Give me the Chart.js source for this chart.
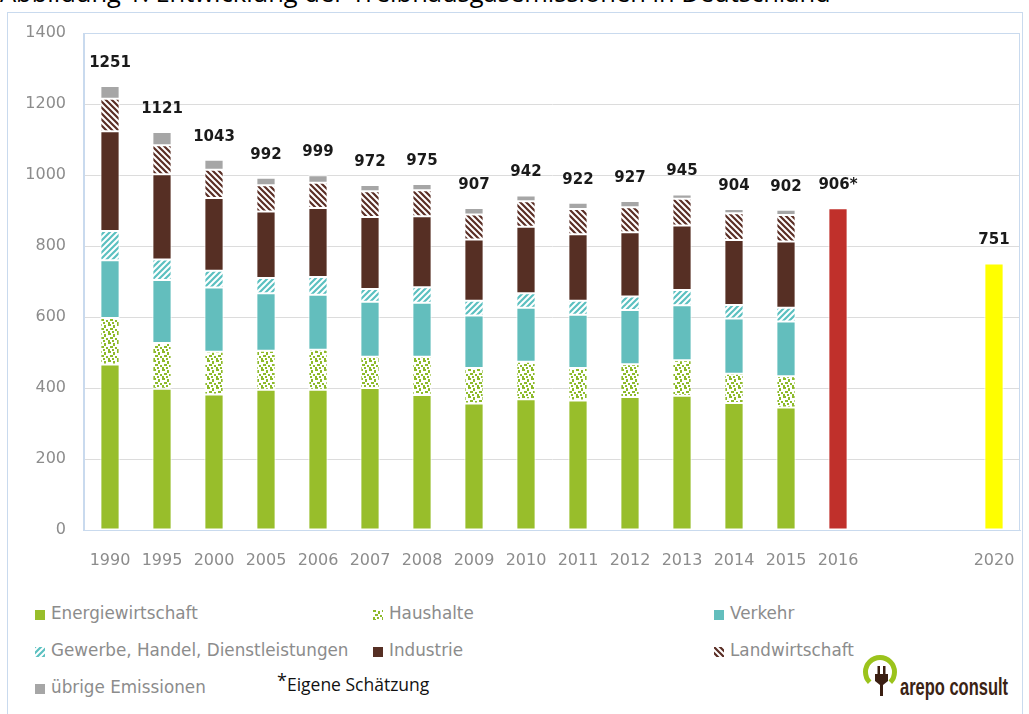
<!DOCTYPE html>
<html>
<head>
<meta charset="utf-8">
<script src="https://cdn.jsdelivr.net/npm/chart.js@4.4.1/dist/chart.umd.min.js"></script>
<style>
  body { margin: 0; background: #fff; width: 1029px; height: 714px; overflow: hidden; position: relative; font-family: "DejaVu Sans", sans-serif; }
  #title { position: absolute; left: 0; top: -25px; font-family: "Open Sans", sans-serif; font-size: 25.5px; color: #000; white-space: nowrap; }
  #frame { position: absolute; left: 7px; top: 12px; width: 1014px; height: 740px; border: 1px solid #C9DAEE; }
  #wrap { position: absolute; left: 0; top: 0; width: 1029px; height: 570px; }
  .item { position: absolute; font-size: 16.8px; color: #8C8C8C; line-height: 20px; white-space: nowrap; }
  .item canvas { vertical-align: -1px; margin-right: 6px; }
  #note { position: absolute; left: 277px; top: 672px; font-family: "Open Sans", sans-serif; font-size: 17.5px; color: #111; white-space: nowrap; }
  #note sup { font-size: 18px; vertical-align: 4px; line-height: 0; }
  #logo { position: absolute; left: 855px; top: 648px; }
</style>
</head>
<body>
<div id="title">Abbildung 1: Entwicklung der Treibhausgasemissionen in Deutschland</div>
<div id="frame"></div>
<div id="wrap"><canvas id="chart"></canvas></div>
<div id="legend"></div>
<div id="note"><sup>*</sup>Eigene Schätzung</div>
<svg id="logo" width="170" height="55">
  <path d="M 14.7 34.3 A 14.5 14.5 0 1 1 35.3 34.3" fill="none" stroke="#9BC31C" stroke-width="5"/>
  <rect x="22.5" y="18" width="2.5" height="8" fill="#3B1F12"/>
  <rect x="28" y="18" width="2.5" height="8" fill="#3B1F12"/>
  <path d="M 20 26 L 33 26 L 33 33 L 28 37 L 28 48 L 25 48 L 25 37 L 20 33 Z" fill="#3B1F12"/>
  <text x="45" y="47" font-family="Liberation Sans Narrow, Liberation Sans, sans-serif" font-weight="bold" font-size="24" fill="#3B2314" textLength="108" lengthAdjust="spacingAndGlyphs">arepo consult</text>
</svg>
<script>
// categories (two empty slots between 2016 and 2020)
var years = ['1990', '1995', '2000', '2005', '2006', '2007', '2008', '2009', '2010', '2011', '2012', '2013', '2014', '2015', '2016', '', '', '2020'];

// emissions by sector, Mio. t CO2-Äq.
var energie   = [466, 398, 382, 395, 395, 400, 380, 356, 368, 365, 375, 378, 358, 345];
var haushalte = [131, 129, 120, 110, 113,  88, 108, 100, 106,  91,  92, 100,  82,  88];
var verkehr   = [163, 177, 181, 162, 155, 155, 152, 148, 152, 150, 153, 155, 156, 154];
var gewerbe   = [ 82,  58,  47,  43,  50,  36,  44,  42,  41,  40,  38,  43,  38,  39];
var industrie = [281, 240, 205, 187, 194, 203, 200, 172, 187, 187, 181, 182, 183, 187];
var landwirt  = [ 92,  82,  80,  74,  71,  72,  73,  71,  72,  71,  70,  75,  75,  74];
var uebrige   = [ 36,  37,  28,  21,  21,  18,  18,  18,  16,  18,  18,  12,  12,  15];

// 2016 estimate and 2020 target
var schaetzung = [null, null, null, null, null, null, null, null, null, null, null, null, null, null, 906, null, null, 751];

// totals printed above the bars
var totals = [1251, 1121, 1043, 992, 999, 972, 975, 907, 942, 922, 927, 945, 904, 902, 906, null, null, 751];
var totalText = ['1251', '1121', '1043', '992', '999', '972', '975', '907', '942', '922', '927', '945', '904', '902', '906*', '', '', '751'];

// fill patterns
function stripes(color, dir) {
    var c = document.createElement('canvas');
    c.width = 6; c.height = 6;
    var g = c.getContext('2d');
    g.fillStyle = '#fff';
    g.fillRect(0, 0, 6, 6);
    g.strokeStyle = color;
    g.lineWidth = 2.2;
    g.beginPath();
    if (dir == '/') {
        g.moveTo(0, 6); g.lineTo(6, 0);
        g.moveTo(-1, 1); g.lineTo(1, -1);
        g.moveTo(5, 7); g.lineTo(7, 5);
    } else {
        g.moveTo(0, 0); g.lineTo(6, 6);
        g.moveTo(5, -1); g.lineTo(7, 1);
        g.moveTo(-1, 5); g.lineTo(1, 7);
    }
    g.stroke();
    return c;
}

function dots(color) {
    var c = document.createElement('canvas');
    c.width = 9; c.height = 9;
    var g = c.getContext('2d');
    g.fillStyle = '#fff';
    g.fillRect(0, 0, 9, 9);
    g.fillStyle = color;
    g.fillRect(0, 0, 3, 2);
    g.fillRect(5, 1, 2, 3);
    g.fillRect(2, 4, 3, 2);
    g.fillRect(7, 5, 2, 2);
    g.fillRect(4, 7, 2, 2);
    g.fillRect(0, 7, 2, 2);
    return c;
}

var tmp = document.createElement('canvas').getContext('2d');
var dotTile = dots('#8DBA2A');
var gewTile = stripes('#5BC0C0', '/');
var landTile = stripes('#5A2E25', '\\');

var series = [
    { label: 'Energiewirtschaft', data: energie, color: '#98BE2B' },
    { label: 'Haushalte', data: haushalte, color: tmp.createPattern(dotTile, 'repeat'), tile: dotTile },
    { label: 'Verkehr', data: verkehr, color: '#63BEBD' },
    { label: 'Gewerbe, Handel, Dienstleistungen', data: gewerbe, color: tmp.createPattern(gewTile, 'repeat'), tile: gewTile },
    { label: 'Industrie', data: industrie, color: '#562F24' },
    { label: 'Landwirtschaft', data: landwirt, color: tmp.createPattern(landTile, 'repeat'), tile: landTile },
    { label: 'übrige Emissionen', data: uebrige, color: '#A6A6A6' }
];

var datasets = series.map(function (s) {
    return {
        label: s.label,
        data: s.data,
        backgroundColor: s.color,
        borderColor: '#fff',
        borderWidth: 1,
        borderSkipped: false
    };
});
datasets.push({
    label: 'Schätzung',
    data: schaetzung,
    backgroundColor: schaetzung.map(function (v, i) { return years[i] == '2020' ? '#FFFF00' : '#C0302B'; }),
    borderColor: '#fff',
    borderWidth: 1,
    borderSkipped: false
});

// legend, three columns
var legendPos = [
    [35, 603], [373, 603], [714, 603],
    [35, 640], [373, 640], [714, 640],
    [35, 677]
];
var legend = document.getElementById('legend');
series.forEach(function (s, i) {
    var div = document.createElement('div');
    div.className = 'item';
    div.style.left = legendPos[i][0] + 'px';
    div.style.top = legendPos[i][1] + 'px';
    var sw = document.createElement('canvas');
    sw.width = 10; sw.height = 10;
    var g = sw.getContext('2d');
    g.fillStyle = s.tile ? g.createPattern(s.tile, 'repeat') : s.color;
    g.fillRect(0, 0, 10, 10);
    div.appendChild(sw);
    div.appendChild(document.createTextNode(s.label));
    legend.appendChild(div);
});

// numbers above the bars and light frame round the plot
var totalLabels = {
    id: 'totalLabels',
    beforeDatasetsDraw: function (chart) {
        var a = chart.chartArea, ctx = chart.ctx;
        ctx.save();
        ctx.strokeStyle = '#C9DAEE';
        ctx.lineWidth = 1;
        ctx.strokeRect(a.left - 0.5, a.top + 0.5, a.right - a.left, a.bottom - a.top);
        ctx.restore();
    },
    afterDatasetsDraw: function (chart) {
        var ctx = chart.ctx, x = chart.scales.x, y = chart.scales.y;
        ctx.save();
        ctx.font = 'bold 15px "DejaVu Sans"';
        ctx.fillStyle = '#1a1a1a';
        ctx.textAlign = 'center';
        ctx.textBaseline = 'middle';
        totals.forEach(function (t, i) {
            if (t == null) return;
            ctx.fillText(totalText[i], x.getPixelForValue(i), y.getPixelForValue(t) - 23);
        });
        ctx.restore();
    }
};

new Chart(document.getElementById('chart'), {
    type: 'bar',
    data: { labels: years, datasets: datasets },
    options: {
        responsive: true,
        maintainAspectRatio: false,
        animation: false,
        devicePixelRatio: 1,
        layout: { padding: { top: 33, right: 9, left: 0, bottom: 0 } },
        datasets: { bar: { barPercentage: 0.37, categoryPercentage: 1 } },
        plugins: { legend: { display: false }, tooltip: { enabled: false } },
        scales: {
            x: {
                stacked: true,
                grid: { display: false },
                border: { color: '#C9DAEE' },
                ticks: { color: '#8C8C8C', font: { family: 'DejaVu Sans', size: 16 }, padding: 13, maxRotation: 0, autoSkip: false },
                afterFit: function (s) { s.height = 40; }
            },
            y: {
                stacked: true,
                min: 0,
                max: 1400,
                grid: { color: '#DCDCDC', drawTicks: false },
                border: { color: '#C9DAEE' },
                ticks: {
                    stepSize: 200, color: '#8C8C8C', font: { family: 'DejaVu Sans', size: 16 }, padding: 18,
                    callback: function (v) { return String(v); }
                },
                afterFit: function (s) { s.width = 84; }
            }
        }
    },
    plugins: [totalLabels]
});
</script>
</body>
</html>
